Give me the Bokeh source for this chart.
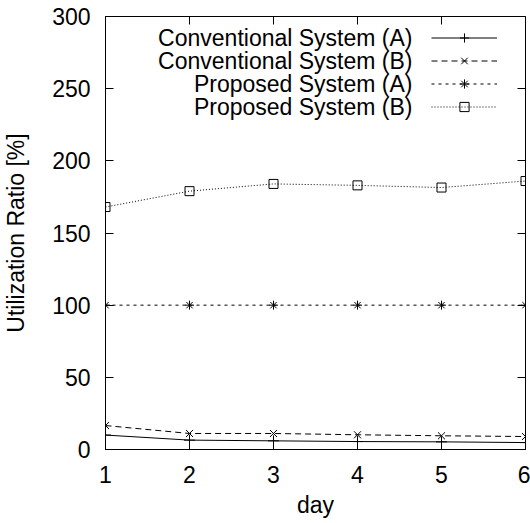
from bokeh.plotting import figure
from bokeh.models import Range1d, FixedTicker, LinearAxis, Legend, LegendItem, Label
from bokeh.embed import file_html
from bokeh.resources import INLINE

# ---- data ----
days = [1, 2, 3, 4, 5, 6]
conv_a = [10, 6.5, 6, 5.5, 5.3, 4.8]
conv_b = [16.6, 11.1, 11.1, 10.2, 9.5, 9.0]
prop_a = [100, 100, 100, 100, 100, 100]
prop_b = [168, 179, 184, 183, 181.5, 186]
series_names = ["Conventional System (A)", "Conventional System (B)",
                "Proposed System (A)", "Proposed System (B)"]
x_ticks = [1, 2, 3, 4, 5, 6]
y_ticks = [0, 50, 100, 150, 200, 250, 300]
x_label = "day"
y_label = "Utilization Ratio [%]"

FONT = "Liberation Sans"
FS = "23px"
W, H = 530, 523
ML, MR, MT, MB = 101, 5, 16, 74
FW, FH = W - ML - MR, H - MT - MB

p = figure(width=W, height=H, x_range=Range1d(1, 6), y_range=Range1d(0, 300),
           output_backend="svg", toolbar_location=None,
           min_border_left=ML, min_border_right=MR, min_border_top=MT, min_border_bottom=MB)
p.xgrid.visible = False
p.ygrid.visible = False
p.outline_line_color = "black"
p.outline_line_alpha = 1
p.outline_line_width = 1
p.background_fill_color = "white"
p.border_fill_color = "white"


def style_axis(ax, ticks):
    ax.ticker = FixedTicker(ticks=ticks)
    ax.major_tick_in = 8
    ax.major_tick_out = 0
    ax.minor_tick_in = 0
    ax.minor_tick_out = 0
    ax.major_tick_line_color = "black"
    ax.axis_line_color = "black"
    ax.major_label_text_font = FONT
    ax.major_label_text_font_size = FS
    ax.major_label_text_color = "black"
    ax.axis_label_text_font = FONT
    ax.axis_label_text_font_size = FS
    ax.axis_label_text_font_style = "normal"
    ax.axis_label_text_color = "black"


style_axis(p.xaxis[0], x_ticks)
style_axis(p.yaxis[0], y_ticks)
p.xaxis.axis_label = x_label
p.yaxis.axis_label = y_label
p.xaxis.major_label_standoff = 16
p.xaxis.axis_label_standoff = 6
p.yaxis.major_label_standoff = 15
p.yaxis.axis_label_standoff = 20

# mirrored ticks (gnuplot style), no labels
for loc, ticks in (("above", x_ticks), ("right", y_ticks)):
    ax = LinearAxis()
    style_axis(ax, ticks)
    ax.major_label_overrides = {t: "" for t in ticks}
    ax.major_label_text_font_size = "1px"
    ax.major_label_standoff = 0
    ax.axis_line_color = None
    p.add_layout(ax, loc)

specs = [
    (conv_a, None, "cross", 11),
    (conv_b, "6 4", "x", 10),
    (prop_a, "3 4", "asterisk", 9),
    (prop_b, "1 2", "square", 9),
]
items = []
for ys, dash, marker, size in specs:
    kw = {} if dash is None else {"line_dash": dash}
    l = p.line(days, ys, line_color="black", line_width=1, **kw)
    s = p.scatter(days, ys, marker=marker, size=size, line_color="black",
                  fill_color=None, line_width=1)
    items.append(LegendItem(label=" ", renderers=[l, s]))

legend = Legend(items=items, location="top_right", glyph_width=66, glyph_height=23,
                label_width=18, label_height=23, label_standoff=0, padding=0, margin=10,
                spacing=0, border_line_color=None, background_fill_alpha=0,
                label_text_font_size="1px")
p.add_layout(legend)

for i, name in enumerate(series_names):
    p.add_layout(Label(x=FW - 117, y=FH - 21.5 - 23 * i, x_units="screen", y_units="screen",
                       text=name, text_align="right", text_baseline="middle",
                       text_font=FONT, text_font_size=FS, text_color="black"))

open("out.html", "w").write(file_html(p, INLINE))
